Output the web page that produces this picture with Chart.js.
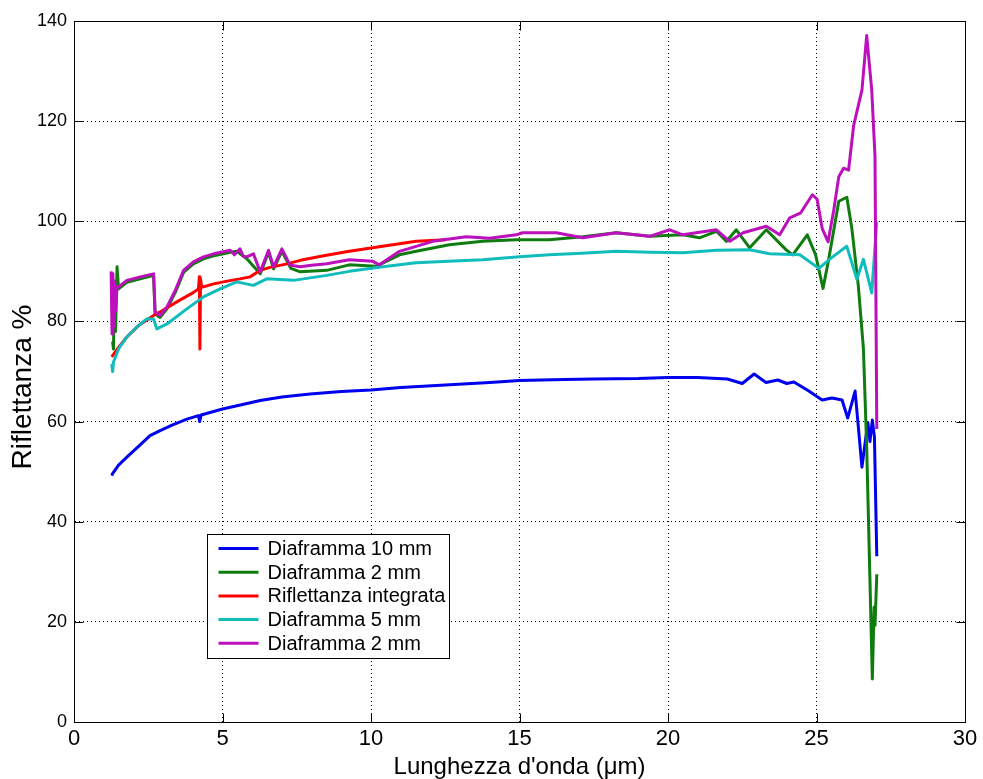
<!DOCTYPE html>
<html lang="it">

<head>
    <meta charset="UTF-8">
    <title>Riflettanza</title>
    <script src="https://cdn.jsdelivr.net/npm/chart.js"></script>
    <style>
        html, body { margin: 0; padding: 0; background: #fff; }
        #grafico { display: block; }
    </style>
</head>

<body>
    <canvas id="grafico" width="983" height="779"></canvas>
</body>

</html>

<script>
    // serie: lunghezza d'onda (um) e riflettanza (%)
    const nomiSerie = ['Diaframma 10 mm', 'Diaframma 2 mm', 'Riflettanza integrata', 'Diaframma 5 mm', 'Diaframma 2 mm'];
    const colori = ['#0000f0', '#107c10', '#ff0000', '#10bcbc', '#bb10bb'];

    const xDiaf10 = [1.27, 1.3, 1.5, 1.78, 2.2, 2.56, 2.9, 3.3, 3.8, 4.19, 4.23, 4.28, 5.0, 5.6, 6.27, 7.0, 7.95, 9.0, 10.0, 11.0, 12.5, 14.0, 15.0, 16.5, 17.5, 19.0, 20.0, 21.0, 22.0, 22.5, 22.9, 23.3, 23.7, 24.0, 24.24, 24.74, 25.19, 25.52, 25.86, 26.05, 26.3, 26.53, 26.62, 26.73, 26.8, 26.88, 26.95, 27.03];
    const yDiaf10 = [49.2, 49.6, 51.3, 52.9, 55.2, 57.2, 58.2, 59.3, 60.5, 61.2, 60.0, 61.3, 62.5, 63.3, 64.2, 64.9, 65.5, 66.0, 66.3, 66.8, 67.3, 67.8, 68.2, 68.4, 68.5, 68.6, 68.8, 68.8, 68.5, 67.6, 69.5, 67.8, 68.3, 67.6, 67.9, 66.1, 64.3, 64.7, 64.3, 60.7, 66.1, 50.9, 55.0, 59.8, 56.0, 60.3, 57.0, 33.1];

    const xDiaf2a = [1.3, 1.33, 1.36, 1.4, 1.45, 1.5, 1.78, 2.23, 2.68, 2.73, 2.9, 3.13, 3.41, 3.69, 4.02, 4.36, 4.7, 5.03, 5.26, 5.48, 5.82, 6.27, 6.55, 6.72, 7.0, 7.3, 7.62, 8.51, 9.27, 10.17, 10.96, 11.52, 12.64, 13.76, 14.89, 16.0, 17.13, 18.26, 19.38, 20.5, 21.06, 21.63, 21.97, 22.3, 22.75, 23.31, 23.98, 24.2, 24.69, 24.97, 25.22, 25.41, 25.75, 26.02, 26.19, 26.41, 26.58, 26.69, 26.8, 26.88, 26.94, 26.97, 27.03];
    const yDiaf2a = [76.0, 74.5, 88.0, 78.0, 90.9, 86.5, 87.8, 88.5, 89.2, 81.5, 80.8, 82.5, 85.8, 89.8, 91.5, 92.5, 93.1, 93.5, 93.8, 94.0, 92.5, 89.5, 93.8, 90.5, 94.0, 90.6, 89.9, 90.2, 91.3, 91.0, 93.3, 94.0, 95.3, 96.0, 96.3, 96.3, 96.9, 97.7, 97.0, 97.3, 96.7, 98.0, 96.0, 98.3, 94.7, 98.3, 94.3, 93.3, 97.3, 93.3, 86.6, 92.4, 104.0, 104.8, 98.6, 87.0, 74.5, 54.9, 28.2, 8.6, 22.9, 19.3, 29.5];

    const xIntegr = [1.27, 1.5, 1.78, 2.2, 2.68, 2.9, 3.46, 4.0, 4.19, 4.22, 4.24, 4.26, 4.3, 4.7, 5.2, 5.59, 5.93, 6.27, 6.6, 7.17, 7.62, 8.5, 9.27, 10.39, 11.52, 12.53];
    const yIntegr = [72.9, 74.8, 76.9, 79.3, 81.2, 81.9, 83.9, 85.7, 86.5, 88.9, 74.5, 88.5, 86.8, 87.5, 88.1, 88.5, 88.9, 90.2, 90.8, 91.5, 92.2, 93.2, 94.0, 95.0, 96.0, 96.3];

    const xDiaf5 = [1.27, 1.3, 1.33, 1.5, 1.78, 2.1, 2.45, 2.68, 2.79, 3.13, 3.8, 4.36, 4.92, 5.48, 6.04, 6.49, 7.39, 8.51, 9.27, 10.4, 11.52, 12.6, 13.76, 15.0, 16.0, 17.1, 18.26, 19.4, 20.5, 21.63, 22.75, 23.42, 24.44, 25.08, 25.5, 26.02, 26.36, 26.58, 26.86, 27.03];
    const yDiaf5 = [71.5, 70.0, 71.9, 74.5, 76.9, 78.8, 80.5, 80.5, 78.5, 79.5, 82.5, 84.9, 86.5, 87.9, 87.2, 88.5, 88.2, 89.2, 90.0, 90.9, 91.7, 92.0, 92.3, 92.9, 93.3, 93.6, 94.0, 93.8, 93.7, 94.2, 94.3, 93.5, 93.3, 90.6, 92.7, 95.0, 88.4, 92.4, 85.7, 100.0];

    const xDiaf2b = [1.25, 1.28, 1.31, 1.34, 1.37, 1.4, 1.45, 1.5, 1.78, 2.23, 2.68, 2.73, 2.9, 3.13, 3.41, 3.69, 4.02, 4.36, 4.7, 5.03, 5.26, 5.4, 5.59, 5.7, 5.82, 6.04, 6.27, 6.55, 6.72, 7.0, 7.28, 7.62, 8.0, 8.51, 9.27, 10.06, 10.28, 10.96, 12.08, 13.2, 14.0, 14.89, 15.1, 16.24, 17.13, 18.26, 19.38, 20.06, 20.5, 21.63, 22.08, 22.53, 23.31, 23.76, 24.1, 24.47, 24.86, 25.02, 25.19, 25.39, 25.58, 25.75, 25.91, 26.08, 26.25, 26.53, 26.69, 26.86, 26.97, 27.03];
    const yDiaf2b = [90.0, 77.5, 89.5, 79.0, 88.0, 82.0, 87.0, 86.9, 88.2, 88.9, 89.5, 81.9, 81.2, 82.9, 86.2, 90.2, 91.9, 92.9, 93.5, 93.9, 94.2, 93.3, 94.5, 93.0, 92.9, 93.5, 89.9, 94.2, 90.9, 94.5, 91.2, 90.9, 91.2, 91.5, 92.3, 92.0, 91.3, 94.0, 96.0, 96.9, 96.6, 97.3, 97.7, 97.7, 96.7, 97.7, 97.0, 98.3, 97.3, 98.3, 96.0, 97.7, 99.0, 97.3, 100.7, 101.7, 105.3, 104.4, 98.6, 95.9, 102.2, 108.9, 110.6, 110.2, 119.1, 126.2, 137.1, 126.2, 112.9, 58.5];

    const xSerie = [xDiaf10, xDiaf2a, xIntegr, xDiaf5, xDiaf2b];
    const ySerie = [yDiaf10, yDiaf2a, yIntegr, yDiaf5, yDiaf2b];

    const xTicks = [0, 5, 10, 15, 20, 25, 30];
    const yTicks = [0, 20, 40, 60, 80, 100, 120, 140];

    const datasets = nomiSerie.map((nome, i) => ({
        label: nome,
        data: xSerie[i].map((x, k) => ({ x: x, y: ySerie[i][k] })),
        borderColor: colori[i],
        backgroundColor: colori[i],
        borderWidth: 3,
        pointRadius: 0,
        tension: 0,
        borderJoinStyle: 'round',
        order: 5 - i   // l'ultima serie sta sopra, come in matlab
    }));

    // box, tacche interne e legenda dentro il grafico
    const boxMatlab = {
        id: 'boxMatlab',
        afterDraw(chart) {
            const { ctx, chartArea: a, scales: { x, y } } = chart;
            const l = Math.round(a.left) + 0.5, r = Math.round(a.right) + 0.5;
            const t = Math.round(a.top) + 0.5, b = Math.round(a.bottom) + 0.5;
            ctx.save();
            ctx.strokeStyle = '#000';
            ctx.lineWidth = 1;
            ctx.setLineDash([]);
            ctx.strokeRect(l, t, r - l, b - t);
            ctx.beginPath();
            xTicks.forEach(v => {
                const px = Math.round(x.getPixelForValue(v)) + 0.5;
                ctx.moveTo(px, b); ctx.lineTo(px, b - 9);
                ctx.moveTo(px, t); ctx.lineTo(px, t + 9);
            });
            yTicks.forEach(v => {
                const py = Math.round(y.getPixelForValue(v)) + 0.5;
                ctx.moveTo(l, py); ctx.lineTo(l + 9, py);
                ctx.moveTo(r, py); ctx.lineTo(r - 9, py);
            });
            ctx.stroke();

            // legenda
            const lx = Math.round(a.left) + 133.5, ly = Math.round(a.top) + 513.5;
            ctx.fillStyle = '#fff';
            ctx.fillRect(lx, ly, 242, 124);
            ctx.strokeRect(lx, ly, 242, 124);
            ctx.font = '20px "Liberation Sans", Arial, sans-serif';
            ctx.textBaseline = 'middle';
            ctx.textAlign = 'left';
            chart.data.datasets.forEach((ds, i) => {
                const ry = ly + 14 + i * 23.7;
                ctx.strokeStyle = ds.borderColor;
                ctx.lineWidth = 3;
                ctx.beginPath();
                ctx.moveTo(lx + 11, ry); ctx.lineTo(lx + 51, ry);
                ctx.stroke();
                ctx.fillStyle = '#000';
                ctx.fillText(ds.label, lx + 60, ry + 1);
            });
            ctx.restore();
        }
    };

    new Chart(document.getElementById('grafico'), {
        type: 'line',
        data: { datasets: datasets },
        options: {
            responsive: false,
            animation: false,
            devicePixelRatio: 1,
            layout: { padding: { top: 21, right: 18, left: 0, bottom: 0 } },
            plugins: {
                legend: { display: false },
                tooltip: { enabled: false }
            },
            scales: {
                x: {
                    type: 'linear',
                    min: 0,
                    max: 30,
                    afterFit: s => { s.height = 57; },
                    afterBuildTicks: s => { s.ticks = xTicks.map(v => ({ value: v })); },
                    ticks: {
                        color: '#000',
                        padding: 4,
                        maxRotation: 0,
                        font: { family: '"Liberation Sans", Arial, sans-serif', size: 22 }
                    },
                    grid: { color: '#000', lineWidth: 1, drawTicks: false },
                    border: { display: true, color: '#000', dash: [1, 3] },
                    title: {
                        display: true,
                        text: "Lunghezza d'onda (μm)",
                        color: '#000',
                        padding: 0,
                        font: { family: '"Liberation Sans", Arial, sans-serif', size: 24, lineHeight: 1 }
                    }
                },
                y: {
                    min: 0,
                    max: 140,
                    afterFit: s => { s.width = 74; },
                    afterBuildTicks: s => { s.ticks = yTicks.map(v => ({ value: v })); },
                    ticks: {
                        color: '#000',
                        padding: 7,
                        font: { family: '"Liberation Sans", Arial, sans-serif', size: 18 }
                    },
                    grid: { color: '#000', lineWidth: 1, drawTicks: false },
                    border: { display: true, color: '#000', dash: [1, 3] },
                    title: {
                        display: true,
                        text: 'Riflettanza %\u00a0\u00a0\u00a0\u00a0',
                        color: '#000',
                        padding: { top: 6, bottom: 0 },
                        font: { family: '"Liberation Sans", Arial, sans-serif', size: 28, lineHeight: 1.2 }
                    }
                }
            }
        },
        plugins: [boxMatlab]
    });
</script>
